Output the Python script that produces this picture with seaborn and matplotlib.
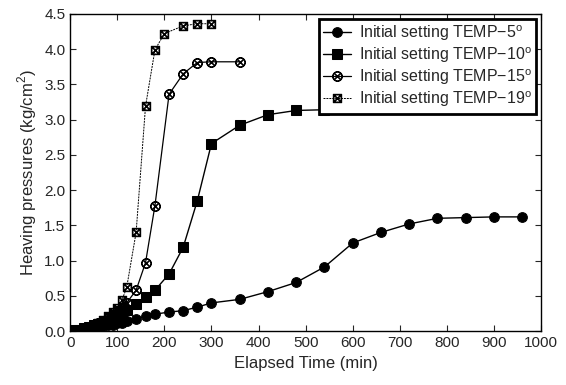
import matplotlib
matplotlib.use("Agg")
import matplotlib.pyplot as plt
import numpy as np
import pandas as pd
import seaborn as sns

# elapsed time (min) and heaving pressure (kg/cm2)
t_5 = [0, 10, 20, 30, 40, 50, 60, 70, 80, 90, 100, 110, 120, 140, 160, 180,
       210, 240, 270, 300, 360, 420, 480, 540, 600, 660, 720, 780, 840, 900, 960]
p_5 = [0.0, 0.01, 0.02, 0.03, 0.04, 0.05, 0.06, 0.07, 0.08, 0.09, 0.11, 0.12, 0.14,
       0.17, 0.21, 0.24, 0.27, 0.29, 0.34, 0.40, 0.45, 0.56, 0.69, 0.91, 1.25, 1.40,
       1.52, 1.60, 1.61, 1.62, 1.62]

t_10 = [0, 10, 20, 30, 40, 50, 60, 70, 80, 90, 100, 110, 120, 140, 160, 180,
        210, 240, 270, 300, 360, 420, 480, 540]
p_10 = [0.0, 0.01, 0.02, 0.04, 0.06, 0.08, 0.10, 0.12, 0.15, 0.18, 0.21, 0.25, 0.30,
        0.38, 0.48, 0.58, 0.81, 1.19, 1.85, 2.66, 2.92, 3.07, 3.13, 3.14]

t_15 = [0, 10, 20, 30, 40, 50, 60, 70, 80, 90, 100, 110, 120, 140, 160, 180,
        210, 240, 270, 300, 360]
p_15 = [0.0, 0.01, 0.02, 0.04, 0.06, 0.09, 0.12, 0.15, 0.19, 0.23, 0.28, 0.33, 0.40,
        0.58, 0.97, 1.78, 3.36, 3.65, 3.81, 3.82, 3.82]

t_19 = [0, 10, 20, 30, 40, 50, 60, 70, 80, 90, 100, 110, 120, 140, 160, 180,
        200, 240, 270, 300]
p_19 = [0.0, 0.01, 0.02, 0.04, 0.06, 0.09, 0.12, 0.16, 0.21, 0.27, 0.33, 0.44, 0.62,
        1.40, 3.19, 3.99, 4.22, 4.33, 4.36, 4.36]

labels = [r"Initial setting TEMP$-$5$^{\mathrm{o}}$",
          r"Initial setting TEMP$-$10$^{\mathrm{o}}$",
          r"Initial setting TEMP$-$15$^{\mathrm{o}}$",
          r"Initial setting TEMP$-$19$^{\mathrm{o}}$"]

sns.set_style("ticks")
plt.rcParams["font.family"] = ["Liberation Sans", "DejaVu Sans"]
plt.rcParams["mathtext.fontset"] = "custom"
plt.rcParams["mathtext.rm"] = "Liberation Sans"

fig = plt.figure(figsize=(5.66, 3.85), dpi=100)
ax = fig.add_axes([0.124, 0.140, 0.832, 0.824])

styles = [
    dict(marker="o", markersize=7, linestyle="-", linewidth=1.0),
    dict(marker="s", markersize=7, linestyle="-", linewidth=1.0),
    dict(marker=r"$\otimes$", markersize=7, linestyle="-", linewidth=0.9),
    dict(marker=r"$\boxtimes$", markersize=6, linestyle=(0, (2, 1)), linewidth=0.7),
]
series = [(t_5, p_5), (t_10, p_10), (t_15, p_15), (t_19, p_19)]

for (tx, py), lab, st in zip(series, labels, styles):
    sns.lineplot(x=tx, y=py, ax=ax, color="black", label=lab,
                 markeredgecolor="black", **st)

ax.set_xlim(0, 1000)
ax.set_ylim(0, 4.5)
ax.set_xticks(np.arange(0, 1001, 100))
ax.set_yticks(np.arange(0, 4.51, 0.5))
ax.yaxis.set_major_formatter(matplotlib.ticker.FormatStrFormatter("%.1f"))
ax.tick_params(direction="in", top=True, right=True, length=4, labelsize=11)
for s in ax.spines.values():
    s.set_linewidth(1.0)
    s.set_color("black")

ax.set_xlabel("Elapsed Time (min)", fontsize=12)
ax.set_ylabel(r"Heaving pressures (kg/cm$^{2}$)", fontsize=12)

leg = ax.legend(loc="upper right", fontsize=11.5, frameon=True, fancybox=False,
                borderpad=0.3, labelspacing=0.15, handlelength=1.7,
                handletextpad=0.5, borderaxespad=0.3)
leg.get_frame().set_edgecolor("black")
leg.get_frame().set_linewidth(2.0)
leg.get_frame().set_alpha(1)

fig.savefig("out.png", dpi=100)
